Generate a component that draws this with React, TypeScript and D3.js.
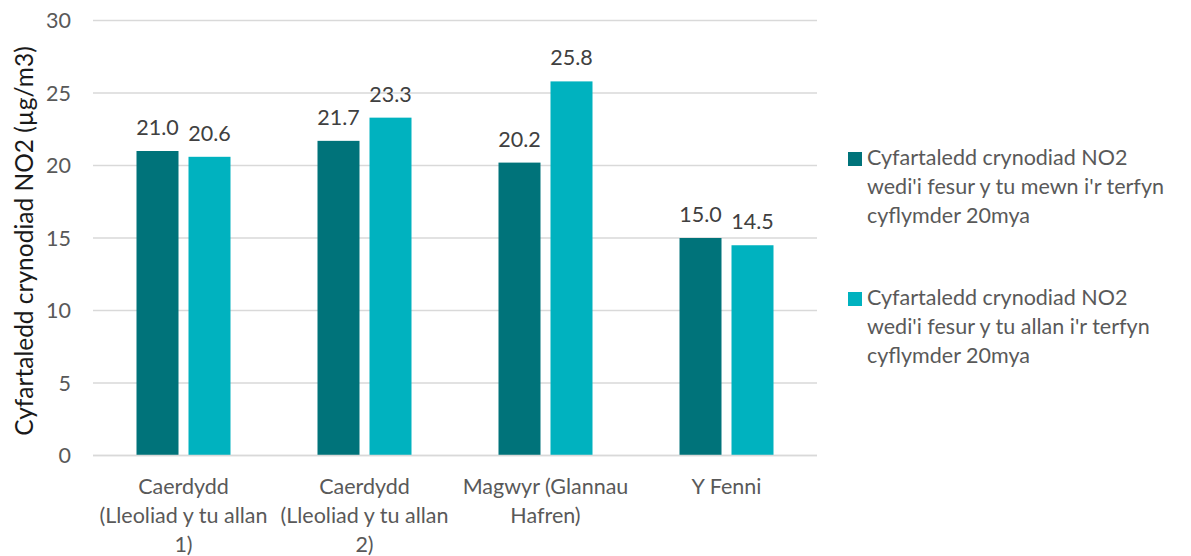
import React from "react";
import * as d3 from "d3";

const categories: string[][] = [
  ["Caerdydd", "(Lleoliad y tu allan", "1)"],
  ["Caerdydd", "(Lleoliad y tu allan", "2)"],
  ["Magwyr (Glannau", "Hafren)"],
  ["Y Fenni"],
];
const insideValues = [21.0, 21.7, 20.2, 15.0];
const outsideValues = [20.6, 23.3, 25.8, 14.5];
const yTicks = [0, 5, 10, 15, 20, 25, 30];
const seriesNames: string[][] = [
  ["Cyfartaledd crynodiad NO2", "wedi'i fesur y tu mewn i'r terfyn", "cyflymder 20mya"],
  ["Cyfartaledd crynodiad NO2", "wedi'i fesur y tu allan i'r terfyn", "cyflymder 20mya"],
];
const yTitle = "Cyfartaledd crynodiad NO2 (µg/m3)";
const colors = ["#00737A", "#00B2BF"];

const W = 1191;
const H = 556;
const FONT = "Lato, 'Open Sans', sans-serif";

export default function App() {
  const left = 93, right = 817, top = 20.5, bottom = 455.5;
  const x = d3.scaleBand<number>().domain(d3.range(categories.length)).range([left, right]);
  const y = d3.scaleLinear().domain([0, 30]).range([bottom, top]);
  const barW = 42;
  const gap = 10;
  const series = [insideValues, outsideValues];
  const fs = 21.5;

  return (
    <svg width={W} height={H} style={{ position: "absolute", left: 0, top: 0, background: "#fff" }}
      fontFamily={FONT}>
      {yTicks.map((t) => (
        <g key={t}>
          <line x1={left} x2={right} y1={y(t)} y2={y(t)} stroke="#D9D9D9" strokeWidth={1.5} />
          <text x={71} y={y(t)} dy="0.35em" textAnchor="end" fontSize={fs} fill="#595959">{t}</text>
        </g>
      ))}
      {series.map((vals, si) =>
        vals.map((v, i) => {
          const cx = x(i)! + x.bandwidth() / 2;
          const bx = si === 0 ? cx - gap / 2 - barW : cx + gap / 2;
          return (
            <g key={`${si}-${i}`}>
              <rect x={bx} y={y(v)} width={barW} height={y(0) - y(v)} fill={colors[si]} />
              <text x={bx + barW / 2} y={y(v) - 16} textAnchor="middle" fontSize={fs} fill="#404040">
                {d3.format(".1f")(v)}
              </text>
            </g>
          );
        })
      )}
      <line x1={left} x2={right} y1={y(0)} y2={y(0)} stroke="#D9D9D9" strokeWidth={1.5} />
      {categories.map((lines, i) => (
        <text key={i} x={x(i)! + x.bandwidth() / 2} textAnchor="middle" fontSize={fs} fill="#595959">
          {lines.map((l, j) => (
            <tspan key={j} x={x(i)! + x.bandwidth() / 2} y={494 + j * 29}>{l}</tspan>
          ))}
        </text>
      ))}
      <text transform={`translate(32.5,241) rotate(-90)`} textAnchor="middle" fontSize={24.5} fill="#1a1a1a">
        {yTitle}
      </text>
      {seriesNames.map((lines, si) => (
        <g key={si} transform={`translate(848,${152 + si * 140})`}>
          <rect x={0} y={0} width={14} height={14} fill={colors[si]} />
          <text fontSize={fs} fill="#595959">
            {lines.map((l, j) => (
              <tspan key={j} x={19} y={13 + j * 29}>{l}</tspan>
            ))}
          </text>
        </g>
      ))}
    </svg>
  );
}
